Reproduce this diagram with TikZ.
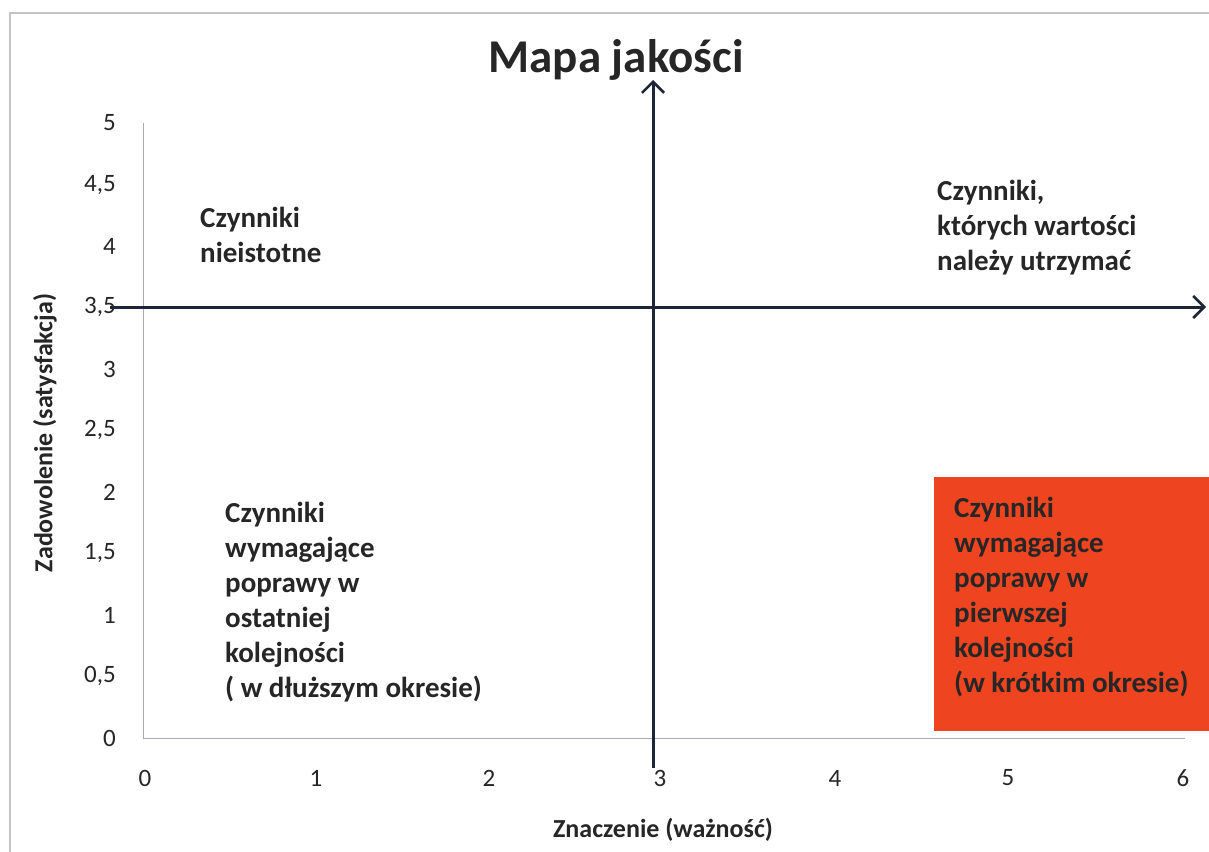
\documentclass[tikz,border=0pt]{standalone}
\usepackage{fontspec}
\setmainfont{Carlito}
\usetikzlibrary{arrows.meta}
\definecolor{axisdark}{HTML}{1E2538}
\definecolor{gridgray}{HTML}{A9A9B8}
\definecolor{boxred}{HTML}{EE4420}
\definecolor{txt}{HTML}{262626}
\tikzset{
  tick/.style={font=\fontsize{25}{27}\selectfont, text=txt, inner sep=0pt},
  quad/.style={font=\bfseries\fontsize{29}{35}\selectfont, text=txt, align=left, inner sep=0pt, anchor=base west},
  axtitle/.style={font=\bfseries\fontsize{26}{28}\selectfont, text=txt, inner sep=0pt},
  mainaxis/.style={draw=axisdark, line width=3pt, -{Straight Barb[length=11pt,width=22pt,line width=2.6pt]}},
  plotaxis/.style={draw=gridgray, line width=0.8pt},
}
\begin{document}
\begin{tikzpicture}[x=1pt,y=-1pt]
\useasboundingbox (0,0) rectangle (1209,851);
\fill[white] (0,0) rectangle (1209,851);
% outer frame
\draw[gridgray!70, line width=1.2pt] (10,860) -- (10,13) -- (1215,13);
% title
\node[font=\bfseries\fontsize{47}{50}\selectfont, text=txt, inner sep=0pt, anchor=base] (title) at (616,72) {Mapa jakości};
% red box
\fill[boxred] (934,477) rectangle (1209,731);
% plot area axes
\coordinate (o) at (143,738);
\coordinate (ytop) at (143,123);
\coordinate (xend) at (1185,738);
\draw[plotaxis] (ytop) -- (o) -- (xend);
% y tick labels
\foreach \v/\yy in {5/123, {4,5}/185, 4/246, {3,5}/307, 3/369, {2,5}/430, 2/492, {1,5}/553, 1/615, {0,5}/676, 0/738}
  \node[tick, anchor=east] at (116,\yy) {\v};
% x tick labels
\foreach \v/\xx in {0/145, 1/316, 2/489, 3/660, 4/835, 5/1008, 6/1183}
  \node[tick] at (\xx,778) {\v};
% axis titles
\node[axtitle, rotate=90] (ylab) at (45,433) {Zadowolenie (satysfakcja)};
\node[axtitle] (xlab) at (663,830) {Znaczenie (ważność)};
% quadrant axes
\coordinate (hs) at (110,307);
\coordinate (he) at (1206,307);
\coordinate (vs) at (653,768);
\coordinate (ve) at (653,80);
\draw[mainaxis] (hs) -- (he);
\draw[mainaxis] (vs) -- (ve);
% quadrant texts (anchored at the baseline of the last line)
\node[quad] (q1) at (200,262) {Czynniki\\nieistotne};
\node[quad] (q2) at (937,270) {Czynniki,\\których wartości\\należy utrzymać};
\node[quad] (q3) at (225,697) {Czynniki\\wymagające\\poprawy w\\ostatniej\\kolejności\\( w dłuższym okresie)};
\node[quad] (q4) at (954,692) {Czynniki\\wymagające\\poprawy w\\pierwszej\\kolejności\\(w krótkim okresie)};
\end{tikzpicture}
\end{document}
